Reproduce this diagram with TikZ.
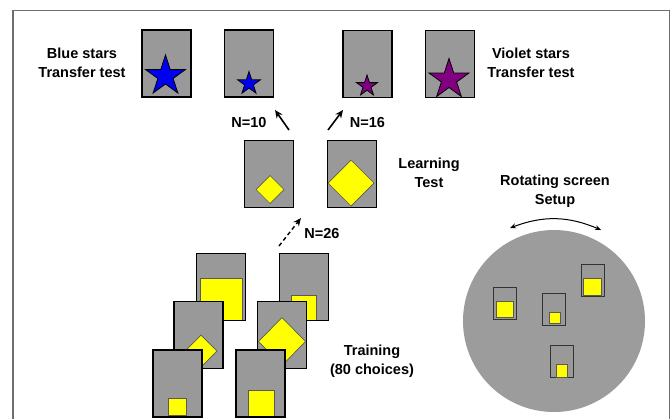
\documentclass[tikz,border=0pt]{standalone}
\usepackage{fontspec}
\setmainfont{Liberation Sans}
\usetikzlibrary{shapes.geometric,arrows.meta}
\definecolor{cardgray}{RGB}{153,153,153}
\definecolor{circgray}{RGB}{156,156,156}
\definecolor{framegray}{RGB}{110,110,110}
\definecolor{starblue}{RGB}{0,0,240}
\definecolor{starviolet}{RGB}{128,0,128}
\definecolor{yel}{RGB}{255,255,0}
\begin{document}
\begin{tikzpicture}[x=1bp,y=-1bp,
  card/.style={rectangle,draw=black,line width=1.8bp,fill=cardgray,minimum width=49bp,minimum height=67bp,inner sep=0pt,outer sep=0pt},
  cardline/.style={draw=black,line width=1.8bp},
  minicard/.style={rectangle,draw=black!80,line width=1bp,fill=cardgray,minimum width=23bp,minimum height=32bp,inner sep=0pt,outer sep=0pt},
  yelbox/.style={fill=yel,draw=black!65,line width=0.7bp},
  staricon/.style={star,star points=5,star point ratio=2.618,draw=black,line width=0.8bp,inner sep=0pt,outer sep=0pt},
  lbl/.style={font=\bfseries\fontsize{14.5bp}{19bp}\selectfont,align=center,inner sep=0pt},
  choice/.style={-{Stealth[length=8bp,width=7bp]},line width=1.6bp},
  rot/.style={{Stealth[length=6bp,width=5bp]}-{Stealth[length=6bp,width=5bp]},line width=1bp}
]
\useasboundingbox (0,0) rectangle (671,419);
\fill[white] (0,0) rectangle (671,419);
% frame
\draw[framegray,line width=1.5bp] (13,419) -- (13,10.5) -- (669.5,10.5) -- (669.5,419);

% ---- transfer tests
\node[card] (bbig) at (166.5,63.5) {};
\node[staricon,fill=starblue,minimum size=42bp] (bbigstar) at (165.5,76) {};
\node[card] (bsmall) at (249,63.5) {};
\node[staricon,fill=starblue,minimum size=24bp] (bsmallstar) at (249,83.5) {};
\node[card] (vsmall) at (367.5,64) {};
\node[staricon,fill=starviolet,minimum size=22bp] (vsmallstar) at (367,86) {};
\node[card] (vbig) at (450,64) {};
\node[staricon,fill=starviolet,minimum size=42bp] (vbigstar) at (449,79.5) {};
\draw[cardline] (vbig.north west) rectangle (vbig.south east);

\node[lbl] (bluelbl) at (82,62.5) {Blue stars\\Transfer test};
\node[lbl] (violetlbl) at (531,62.5) {Violet stars\\Transfer test};

% ---- learning test
\node[card] (lleft) at (269,174) {};
\draw[yelbox] (270,175.5) -- (284,189.5) -- (270,203.5) -- (256,189.5) -- cycle;
\node[card] (lright) at (352,174) {};
\draw[yelbox] (351,160) -- (374,183) -- (351,206) -- (328,183) -- cycle;
\draw[cardline] (lright.north west) rectangle (lright.south east);
\node[lbl] (learnlbl) at (429,173) {Learning\\Test};

% arrows to transfer tests
\coordinate (a10s) at (289,130);
\coordinate (a10e) at (275,110);
\coordinate (a16s) at (328,130);
\coordinate (a16e) at (343,110);
\draw[choice] (a10s) -- (a10e);
\draw[choice] (a16s) -- (a16e);
\node[lbl] (n10) at (249,123) {N=10};
\node[lbl] (n16) at (367.5,122.5) {N=16};

% ---- training
\node[card] (ttl) at (221,287) {};
\draw[yelbox] (200,278) rectangle (242,320);
\draw[cardline] (ttl.north west) rectangle (ttl.south east);
\node[card] (ttr) at (304,287) {};
\draw[yelbox] (291,295) rectangle (316,320);
\draw[cardline] (ttr.north west) rectangle (ttr.south east);
\node[card] (tml) at (198.5,335) {};
\draw[yelbox] (201,335) -- (217,351) -- (201,367) -- (185,351) -- cycle;
\node[card] (tmr) at (282,335) {};
\draw[yelbox] (282,317.5) -- (305.5,341.5) -- (282,365.5) -- (258.5,341.5) -- cycle;
\node[card] (tfl) at (177.5,383.5) {};
\draw[yelbox] (168,398) rectangle (186,415);
\node[card] (tfr) at (260.5,383.5) {};
\draw[yelbox] (248,390) rectangle (274,416);
\draw[cardline] (tfr.north west) rectangle (tfr.south east);
\draw[cardline] (tfl.north west) rectangle (tfl.south east);
\node[lbl] (trainlbl) at (372,361) {Training\\(80 choices)};

\coordinate (a26s) at (279,246);
\coordinate (a26e) at (301,218);
\draw[choice,line width=1.4bp,dash pattern=on 4bp off 3bp] (a26s) -- (a26e);
\node[lbl] (n26) at (322,233) {N=26};

% ---- rotating screen
\node[lbl] (rotlbl) at (555,191) {Rotating screen\\Setup};
\coordinate (rotl) at (510,228);
\coordinate (rotr) at (601,230);
\draw[rot] (rotl) to[bend left=22] (rotr);
\node[circle,fill=circgray,minimum size=182bp,inner sep=0pt] (screen) at (554,321) {};
\node[minicard] (m1) at (505,303) {};
\draw[yelbox] (496,301) rectangle (513,317);
\node[minicard] (m2) at (554,309.5) {};
\draw[yelbox] (549,312) rectangle (560,323);
\node[minicard] (m3) at (592.5,280) {};
\draw[yelbox] (583,278) rectangle (601,295);
\node[minicard] (m4) at (562,361.5) {};
\draw[yelbox] (556,364) rectangle (567,377);
\end{tikzpicture}
\end{document}
